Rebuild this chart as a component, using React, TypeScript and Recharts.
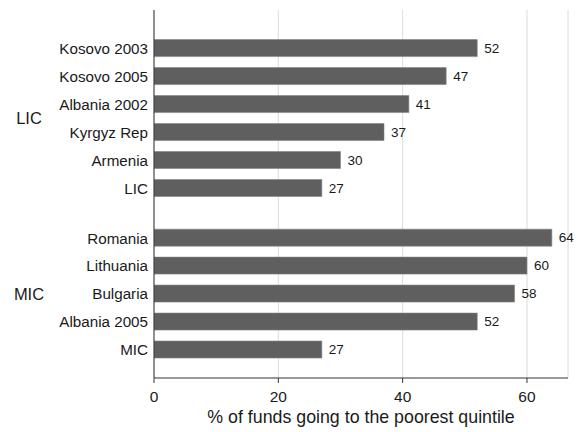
import {
  BarChart,
  Bar,
  XAxis,
  YAxis,
  CartesianGrid,
  LabelList,
  ReferenceLine,
} from "recharts";

// groups listed top to bottom as in the picture
const groupNames = ["LIC", "MIC"];
const licCountries = ["Kosovo 2003", "Kosovo 2005", "Albania 2002", "Kyrgyz Rep", "Armenia", "LIC"];
const licValues = [52, 47, 41, 37, 30, 27];
const micCountries = ["Romania", "Lithuania", "Bulgaria", "Albania 2005", "MIC"];
const micValues = [64, 60, 58, 52, 27];
const xTicks = [0, 20, 40, 60];

const FONT = "'Liberation Sans', Arial, Helvetica, sans-serif";
const BAR = "#5f5f5f";
const INK = "#1a1a1a";

// row slots on a numeric y scale (bottom = 1), with a smaller gap between groups
const GROUP_GAP = 1.775;
const TOP_PAD = 1.38;

function buildRows() {
  const rows: { name: string; value: number; pos: number }[] = [];
  const centers: { label: string; pos: number }[] = [];
  const groups = [
    { label: groupNames[1], names: micCountries, values: micValues },
    { label: groupNames[0], names: licCountries, values: licValues },
  ];
  let pos = 1;
  groups.forEach((g, gi) => {
    if (gi > 0) pos += GROUP_GAP - 1;
    const start = pos;
    // names are top-to-bottom, slots go bottom-up
    for (let i = g.names.length - 1; i >= 0; i--) {
      rows.push({ name: g.names[i], value: g.values[i], pos });
      pos += 1;
    }
    centers.push({ label: g.label, pos: (start + pos - 1) / 2 });
  });
  const top = pos - 1 + TOP_PAD;
  return { rows, centers, top };
}

const { rows, centers, top } = buildRows();
const nameAt = new Map(rows.map((r) => [r.pos, r.name]));

export default function App() {
  return (
    <div style={{ position: "absolute", left: 0, top: 0, fontFamily: FONT }}>
      <BarChart
        width={584}
        height={432}
        data={rows}
        layout="vertical"
        margin={{ top: 10, right: 16, left: 0, bottom: 0 }}
      >
        <CartesianGrid horizontal={false} stroke="#dcdcdc" strokeWidth={1} />
        <XAxis
          type="number"
          domain={[0, 66.6]}
          ticks={xTicks}
          allowDataOverflow
          height={54}
          tickSize={5}
          tickMargin={8}
          stroke="#333"
          tick={{ fontSize: 15.5, fill: INK, fontFamily: FONT }}
          label={{
            value: "% of funds going to the poorest quintile",
            position: "insideBottom",
            offset: 9,
            fontSize: 17.8,
            fill: INK,
            fontFamily: FONT,
          }}
        />
        <YAxis
          type="number"
          dataKey="pos"
          domain={[0, top]}
          reversed
          ticks={rows.map((r) => r.pos)}
          interval={0}
          allowDecimals
          width={154}
          tickLine={false}
          tickSize={4}
          tickMargin={2}
          stroke="#333"
          tickFormatter={(v: number) => nameAt.get(v) ?? ""}
          tick={{ fontSize: 15.2, fill: INK, fontFamily: FONT }}
        />
        {centers.map((c) => (
          <ReferenceLine
            key={c.label}
            y={c.pos}
            stroke="none"
            label={{
              content: (p: any) => (
                <text
                  x={p.viewBox.x - 125}
                  y={p.viewBox.y}
                  dy="0.36em"
                  textAnchor="middle"
                  fontSize={16.5}
                  fill={INK}
                  fontFamily={FONT}
                >
                  {c.label}
                </text>
              ),
            }}
          />
        ))}
        <Bar
          dataKey="value"
          fill={BAR}
          stroke="#838383"
          strokeWidth={0.6}
          barSize={17}
          isAnimationActive={false}
        >
          <LabelList
            dataKey="value"
            position="right"
            offset={7}
            fontSize={13.5}
            fill={INK}
            fontFamily={FONT}
          />
        </Bar>
      </BarChart>
    </div>
  );
}
